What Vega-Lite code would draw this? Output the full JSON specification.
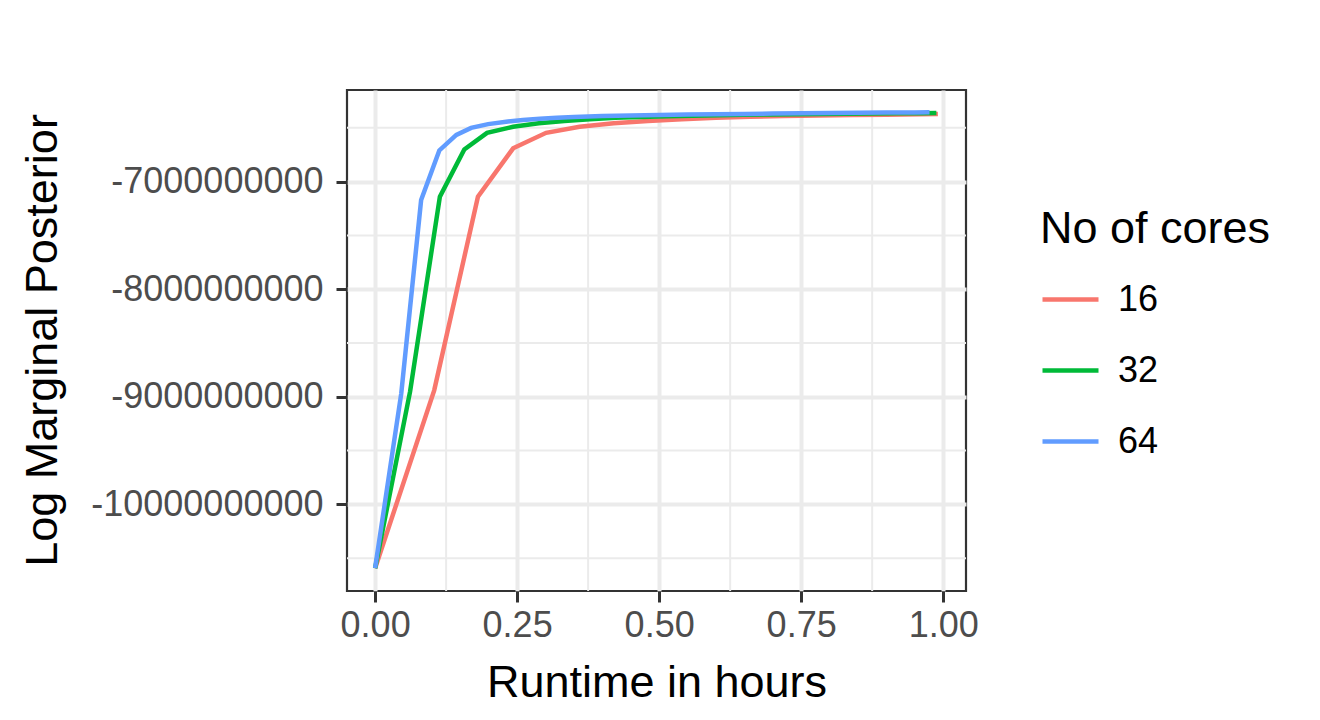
{
  "$schema": "https://vega.github.io/schema/vega-lite/v6.json",
  "autosize": {"type": "none"},
  "width": 619,
  "height": 501,
  "padding": {"left": 347, "top": 90, "right": 354, "bottom": 129},
  "background": "white",
  "config": {
    "font": "Liberation Sans",
    "view": {"stroke": "#333333", "strokeWidth": 2.2},
    "axis": {
      "grid": true,
      "gridColor": "#EBEBEB",
      "gridWidth": 4,
      "domain": false,
      "tickColor": "#333333",
      "tickSize": 11,
      "tickWidth": 3,
      "labelFont": "Liberation Sans",
      "labelFontSize": 36,
      "labelColor": "#4D4D4D",
      "labelLimit": 0,
      "titleFont": "Liberation Sans",
      "titleFontSize": 45,
      "titleFontWeight": "normal",
      "titleColor": "#000000",
      "titleLimit": 0
    }
  },
  "datasets": {
    "series": [
      {"t": 0, "lmp": -10593000000, "cores": "16"},
      {"t": 0.104, "lmp": -8940000000, "cores": "16"},
      {"t": 0.181, "lmp": -7140000000, "cores": "16"},
      {"t": 0.243, "lmp": -6690000000, "cores": "16"},
      {"t": 0.301, "lmp": -6546000000, "cores": "16"},
      {"t": 0.36, "lmp": -6490000000, "cores": "16"},
      {"t": 0.42, "lmp": -6458000000, "cores": "16"},
      {"t": 0.48, "lmp": -6437000000, "cores": "16"},
      {"t": 0.54, "lmp": -6420000000, "cores": "16"},
      {"t": 0.60, "lmp": -6406000000, "cores": "16"},
      {"t": 0.66, "lmp": -6397000000, "cores": "16"},
      {"t": 0.72, "lmp": -6390000000, "cores": "16"},
      {"t": 0.78, "lmp": -6385000000, "cores": "16"},
      {"t": 0.84, "lmp": -6380000000, "cores": "16"},
      {"t": 0.90, "lmp": -6377000000, "cores": "16"},
      {"t": 0.96, "lmp": -6373000000, "cores": "16"},
      {"t": 0.9907, "lmp": -6370000000, "cores": "16"},
      {"t": 0, "lmp": -10593000000, "cores": "32"},
      {"t": 0.0616, "lmp": -8950000000, "cores": "32"},
      {"t": 0.114, "lmp": -7140000000, "cores": "32"},
      {"t": 0.157, "lmp": -6700000000, "cores": "32"},
      {"t": 0.197, "lmp": -6546000000, "cores": "32"},
      {"t": 0.243, "lmp": -6490000000, "cores": "32"},
      {"t": 0.288, "lmp": -6458000000, "cores": "32"},
      {"t": 0.333, "lmp": -6437000000, "cores": "32"},
      {"t": 0.378, "lmp": -6420000000, "cores": "32"},
      {"t": 0.423, "lmp": -6406000000, "cores": "32"},
      {"t": 0.468, "lmp": -6398000000, "cores": "32"},
      {"t": 0.513, "lmp": -6392000000, "cores": "32"},
      {"t": 0.558, "lmp": -6387000000, "cores": "32"},
      {"t": 0.603, "lmp": -6383000000, "cores": "32"},
      {"t": 0.648, "lmp": -6379000000, "cores": "32"},
      {"t": 0.693, "lmp": -6376000000, "cores": "32"},
      {"t": 0.738, "lmp": -6373000000, "cores": "32"},
      {"t": 0.783, "lmp": -6371000000, "cores": "32"},
      {"t": 0.828, "lmp": -6369000000, "cores": "32"},
      {"t": 0.873, "lmp": -6367000000, "cores": "32"},
      {"t": 0.918, "lmp": -6365000000, "cores": "32"},
      {"t": 0.963, "lmp": -6363000000, "cores": "32"},
      {"t": 0.988, "lmp": -6362000000, "cores": "32"},
      {"t": 0, "lmp": -10593000000, "cores": "64"},
      {"t": 0.046, "lmp": -8970000000, "cores": "64"},
      {"t": 0.081, "lmp": -7170000000, "cores": "64"},
      {"t": 0.113, "lmp": -6710000000, "cores": "64"},
      {"t": 0.143, "lmp": -6565000000, "cores": "64"},
      {"t": 0.169, "lmp": -6500000000, "cores": "64"},
      {"t": 0.199, "lmp": -6465000000, "cores": "64"},
      {"t": 0.234, "lmp": -6440000000, "cores": "64"},
      {"t": 0.26, "lmp": -6426000000, "cores": "64"},
      {"t": 0.29, "lmp": -6415000000, "cores": "64"},
      {"t": 0.32, "lmp": -6405000000, "cores": "64"},
      {"t": 0.35, "lmp": -6398000000, "cores": "64"},
      {"t": 0.40, "lmp": -6390000000, "cores": "64"},
      {"t": 0.45, "lmp": -6385000000, "cores": "64"},
      {"t": 0.50, "lmp": -6380000000, "cores": "64"},
      {"t": 0.55, "lmp": -6376000000, "cores": "64"},
      {"t": 0.60, "lmp": -6373000000, "cores": "64"},
      {"t": 0.65, "lmp": -6370000000, "cores": "64"},
      {"t": 0.70, "lmp": -6367000000, "cores": "64"},
      {"t": 0.75, "lmp": -6365000000, "cores": "64"},
      {"t": 0.80, "lmp": -6362000000, "cores": "64"},
      {"t": 0.85, "lmp": -6360000000, "cores": "64"},
      {"t": 0.90, "lmp": -6358000000, "cores": "64"},
      {"t": 0.95, "lmp": -6356000000, "cores": "64"},
      {"t": 0.976, "lmp": -6355000000, "cores": "64"}
    ],
    "xminor": [{"t": 0.125}, {"t": 0.375}, {"t": 0.625}, {"t": 0.875}],
    "yminor": [{"lmp": -10500000000}, {"lmp": -9500000000}, {"lmp": -8500000000}, {"lmp": -7500000000}, {"lmp": -6500000000}]
  },
  "layer": [
    {
      "data": {"name": "xminor"},
      "mark": {"type": "rule", "color": "#EBEBEB", "strokeWidth": 2},
      "encoding": {
        "x": {
          "field": "t", "type": "quantitative",
          "scale": {"domain": [-0.0495, 1.0402], "nice": false, "zero": false},
          "axis": {"title": "Runtime in hours", "values": [0, 0.25, 0.5, 0.75, 1], "format": ".2f", "labelPadding": 6, "titlePadding": 17}
        }
      }
    },
    {
      "data": {"name": "yminor"},
      "mark": {"type": "rule", "color": "#EBEBEB", "strokeWidth": 2},
      "encoding": {
        "y": {
          "field": "lmp", "type": "quantitative",
          "scale": {"domain": [-10805000000, -6148000000], "nice": false, "zero": false},
          "axis": {"title": "Log Marginal Posterior", "values": [-10000000000, -9000000000, -8000000000, -7000000000], "labelExpr": "datum.value + ''", "labelPadding": 13, "titleX": -305, "titleY": 250, "titleAngle": -90, "titleAlign": "center", "titleBaseline": "middle"}
        }
      }
    },
    {
      "data": {"name": "series"},
      "mark": {"type": "line", "strokeWidth": 4.5, "clip": true},
      "encoding": {
        "x": {
          "field": "t", "type": "quantitative",
          "scale": {"domain": [-0.0495, 1.0402], "nice": false, "zero": false},
          "axis": {"title": "Runtime in hours", "values": [0, 0.25, 0.5, 0.75, 1], "format": ".2f", "labelPadding": 6, "titlePadding": 17}
        },
        "y": {
          "field": "lmp", "type": "quantitative",
          "scale": {"domain": [-10805000000, -6148000000], "nice": false, "zero": false},
          "axis": {"title": "Log Marginal Posterior", "values": [-10000000000, -9000000000, -8000000000, -7000000000], "labelExpr": "datum.value + ''", "labelPadding": 13, "titleX": -305, "titleY": 250, "titleAngle": -90, "titleAlign": "center", "titleBaseline": "middle"}
        },
        "color": {
          "field": "cores", "type": "nominal",
          "scale": {"domain": ["16", "32", "64"], "range": ["#F8766D", "#00BA38", "#619CFF"]},
          "legend": {
            "title": "No of cores",
            "orient": "none",
            "legendX": 693,
            "legendY": 117,
            "titleFontSize": 45,
            "titleFont": "Liberation Sans",
            "titleFontWeight": "normal",
            "titleColor": "#000000",
            "titleLimit": 0,
            "titlePadding": 17,
            "labelFontSize": 36,
            "labelFont": "Liberation Sans",
            "labelColor": "#000000",
            "labelLimit": 0,
            "labelOffset": 17,
            "symbolType": "stroke",
            "symbolSize": 3136,
            "symbolStrokeWidth": 4.5,
            "rowPadding": 22
          }
        }
      }
    }
  ]
}
